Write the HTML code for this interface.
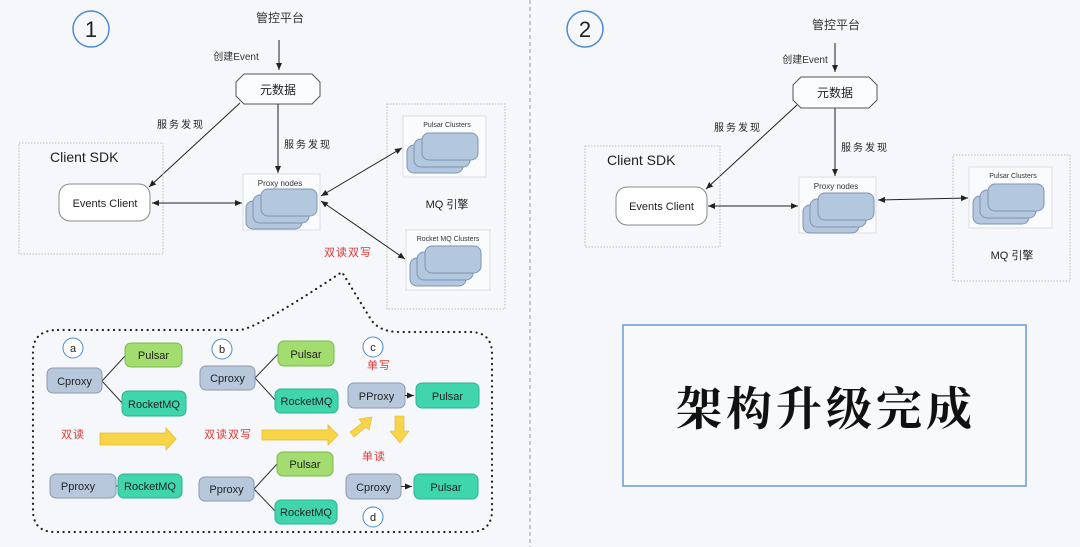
<!DOCTYPE html>
<html><head><meta charset="utf-8"><style>
html,body{margin:0;padding:0;background:#f5f7fa;}
svg{display:block;}
text{font-family:"Liberation Sans","Noto Sans CJK SC",sans-serif;}
.cn{font-family:"Liberation Sans","Noto Sans CJK SC",sans-serif;}
.hw{font-family:"Noto Serif CJK SC","WenQuanYi Zen Hei",serif;}
</style></head><body>
<svg width="1080" height="547" viewBox="0 0 1080 547" xmlns="http://www.w3.org/2000/svg">
<defs>
<marker id="ah" markerWidth="8" markerHeight="8" refX="7" refY="4" orient="auto-start-reverse" markerUnits="userSpaceOnUse"><path d="M0,1 L7,4 L0,7 z" fill="#222"/></marker>
<g id="stack">
<rect x="0" y="12" width="56" height="28" rx="7" fill="#b3c8de" stroke="#7e95b0" stroke-width="1"/>
<rect x="7" y="6" width="56" height="28" rx="7" fill="#b3c8de" stroke="#7e95b0" stroke-width="1"/>
<rect x="15" y="0" width="56" height="27" rx="7" fill="#b3c8de" stroke="#7e95b0" stroke-width="1"/>
</g>
</defs>
<rect width="1080" height="547" fill="#f5f7fa"/>
<line x1="530" y1="0" x2="530" y2="547" stroke="#999" stroke-dasharray="4 3" stroke-width="1"/>

<!-- ============ PANEL 1 ============ -->
<circle cx="91" cy="29" r="18" fill="none" stroke="#4a8ad8" stroke-width="1.5"/>
<text x="91" y="37" font-size="22" text-anchor="middle" fill="#222">1</text>
<text x="280" y="22" font-size="12" text-anchor="middle" fill="#333">管控平台</text>
<line x1="279" y1="40" x2="279" y2="70" stroke="#222" marker-end="url(#ah)"/>
<text x="236" y="60" font-size="10" text-anchor="middle" fill="#333">创建Event</text>
<polygon points="244,74 312,74 320,82 320,96 312,104 244,104 236,96 236,82" fill="#fbfcfd" stroke="#555"/>
<text x="278" y="94" font-size="12" text-anchor="middle" fill="#222">元数据</text>
<line x1="240" y1="103" x2="149" y2="187" stroke="#222" marker-end="url(#ah)"/>
<text x="181" y="128" font-size="10" text-anchor="middle" fill="#222" letter-spacing="2">服务发现</text>
<line x1="278" y1="104" x2="278" y2="173" stroke="#222" marker-end="url(#ah)"/>
<text x="308" y="148" font-size="10" text-anchor="middle" fill="#222" letter-spacing="2">服务发现</text>

<rect x="19" y="143" width="144" height="111" fill="none" stroke="#bbb" stroke-dasharray="1.5 1.5"/>
<text x="50" y="162" font-size="14" fill="#222">Client SDK</text>
<rect x="59" y="184" width="91" height="37" rx="11" fill="#fff" stroke="#888"/>
<text x="105" y="207" font-size="11" text-anchor="middle" fill="#222">Events Client</text>
<line x1="152" y1="203" x2="242" y2="203" stroke="#222" marker-start="url(#ah)" marker-end="url(#ah)"/>

<rect x="243" y="174" width="77" height="56" fill="#fafbfc" stroke="#ddd"/>
<text x="280" y="186" font-size="8" text-anchor="middle" fill="#333">Proxy nodes</text>
<use href="#stack" transform="translate(246,189)"/>

<rect x="387" y="104" width="118" height="205" fill="none" stroke="#bbb" stroke-dasharray="1.5 1.5"/>
<rect x="403" y="116" width="83" height="61" fill="#fafbfc" stroke="#ddd"/>
<text x="447" y="127" font-size="7" text-anchor="middle" fill="#333">Pulsar Clusters</text>
<use href="#stack" transform="translate(407,133)"/>
<text x="447" y="208" font-size="11" text-anchor="middle" fill="#222">MQ 引擎</text>
<rect x="406" y="230" width="84" height="60" fill="#fafbfc" stroke="#ddd"/>
<text x="448" y="241" font-size="7" text-anchor="middle" fill="#333">Rocket MQ Clusters</text>
<use href="#stack" transform="translate(410,246)"/>
<line x1="321" y1="196" x2="402" y2="148" stroke="#222" marker-start="url(#ah)" marker-end="url(#ah)"/>
<line x1="321" y1="201" x2="405" y2="259" stroke="#222" marker-start="url(#ah)" marker-end="url(#ah)"/>
<text x="348" y="256" font-size="11" text-anchor="middle" fill="#e53935" letter-spacing="1">双读双写</text>

<!-- dotted callout -->
<path d="M58,330 L240,330 Q258,328 342,272 L370,318 Q378,332 400,332 L470,332 Q492,332 492,354 L492,510 Q492,532 470,532 L55,532 Q33,532 33,510 L33,352 Q33,330 58,330 Z" fill="none" stroke="#222" stroke-width="2.2" stroke-linecap="round" stroke-dasharray="0.1 5.5"/>

<!-- a -->
<circle cx="73" cy="348" r="10" fill="#fff" stroke="#4a8ad8"/>
<text x="73" y="352" font-size="11" text-anchor="middle" fill="#222">a</text>
<line x1="102" y1="381" x2="125" y2="356" stroke="#333"/>
<line x1="102" y1="381" x2="123" y2="404" stroke="#333"/>
<rect x="47" y="368" width="55" height="25" rx="6" fill="#b8c8dc" stroke="#8a9bb0"/>
<text x="74.5" y="385" font-size="11" text-anchor="middle" fill="#222">Cproxy</text>
<rect x="125" y="343" width="57" height="24" rx="6" fill="#a3dc6f" stroke="#7cb84f"/>
<text x="153.5" y="359" font-size="11" text-anchor="middle" fill="#222">Pulsar</text>
<rect x="122" y="391" width="64" height="25" rx="6" fill="#3fd6ad" stroke="#2bb38e"/>
<text x="154" y="408" font-size="11" text-anchor="middle" fill="#222">RocketMQ</text>
<text x="73" y="438" font-size="11" text-anchor="middle" fill="#e53935" letter-spacing="1">双读</text>
<polygon points="100,433 166,433 166,428 176,439 166,450 166,445 100,445" fill="#f8d449" stroke="#e8b830" stroke-width="0.8"/>
<rect x="50" y="474" width="66" height="24" rx="6" fill="#b8c8dc" stroke="#8a9bb0"/>
<text x="78" y="490" font-size="11" text-anchor="middle" fill="#222">Pproxy</text>
<line x1="116" y1="486" x2="118" y2="486" stroke="#333"/>
<rect x="118" y="474" width="64" height="24" rx="6" fill="#3fd6ad" stroke="#2bb38e"/>
<text x="150" y="490" font-size="11" text-anchor="middle" fill="#222">RocketMQ</text>

<!-- b -->
<circle cx="222" cy="349" r="10" fill="#fff" stroke="#4a8ad8"/>
<text x="222" y="353" font-size="11" text-anchor="middle" fill="#222">b</text>
<line x1="255" y1="378" x2="278" y2="354" stroke="#333"/>
<line x1="255" y1="378" x2="276" y2="401" stroke="#333"/>
<rect x="200" y="366" width="55" height="24" rx="6" fill="#b8c8dc" stroke="#8a9bb0"/>
<text x="227.5" y="382" font-size="11" text-anchor="middle" fill="#222">Cproxy</text>
<rect x="278" y="341" width="56" height="25" rx="6" fill="#a3dc6f" stroke="#7cb84f"/>
<text x="306" y="358" font-size="11" text-anchor="middle" fill="#222">Pulsar</text>
<rect x="275" y="389" width="63" height="24" rx="6" fill="#3fd6ad" stroke="#2bb38e"/>
<text x="306.5" y="405" font-size="11" text-anchor="middle" fill="#222">RocketMQ</text>
<text x="228" y="438" font-size="11" text-anchor="middle" fill="#e53935" letter-spacing="1">双读双写</text>
<polygon points="262,430 328,430 328,425 338,435 328,445 328,440 262,440" fill="#f8d449" stroke="#e8b830" stroke-width="0.8"/>
<line x1="254" y1="489" x2="277" y2="464" stroke="#333"/>
<line x1="254" y1="489" x2="276" y2="512" stroke="#333"/>
<rect x="199" y="477" width="55" height="24" rx="6" fill="#b8c8dc" stroke="#8a9bb0"/>
<text x="226.5" y="493" font-size="11" text-anchor="middle" fill="#222">Pproxy</text>
<rect x="277" y="452" width="56" height="24" rx="6" fill="#a3dc6f" stroke="#7cb84f"/>
<text x="305" y="468" font-size="11" text-anchor="middle" fill="#222">Pulsar</text>
<rect x="275" y="500" width="62" height="24" rx="6" fill="#3fd6ad" stroke="#2bb38e"/>
<text x="306" y="516" font-size="11" text-anchor="middle" fill="#222">RocketMQ</text>

<!-- c / d -->
<circle cx="373" cy="347" r="10" fill="#fff" stroke="#4a8ad8"/>
<text x="373" y="351" font-size="11" text-anchor="middle" fill="#222">c</text>
<text x="379" y="369" font-size="11" text-anchor="middle" fill="#e53935" letter-spacing="1">单写</text>
<rect x="348" y="383" width="57" height="25" rx="6" fill="#b8c8dc" stroke="#8a9bb0"/>
<text x="376.5" y="400" font-size="11" text-anchor="middle" fill="#222">PProxy</text>
<line x1="405" y1="395.5" x2="414" y2="395.5" stroke="#333" marker-end="url(#ah)"/>
<rect x="416" y="383" width="63" height="25" rx="6" fill="#3fd6ad" stroke="#2bb38e"/>
<text x="447.5" y="400" font-size="11" text-anchor="middle" fill="#222">Pulsar</text>
<polygon points="350,432 362,423 359,419 372,417 369,430 366,427 354,437" fill="#f8d449" stroke="#e8b830" stroke-width="0.6"/>
<polygon points="395,416 404,416 404,431 409,431 400,443 390,431 395,431" fill="#f8d449" stroke="#e8b830" stroke-width="0.6"/>
<text x="374" y="460" font-size="11" text-anchor="middle" fill="#e53935" letter-spacing="1">单读</text>
<rect x="346" y="474" width="55" height="25" rx="6" fill="#b8c8dc" stroke="#8a9bb0"/>
<text x="373.5" y="491" font-size="11" text-anchor="middle" fill="#222">Cproxy</text>
<line x1="401" y1="486.5" x2="412" y2="486.5" stroke="#333" marker-end="url(#ah)"/>
<rect x="414" y="474" width="64" height="25" rx="6" fill="#3fd6ad" stroke="#2bb38e"/>
<text x="446" y="491" font-size="11" text-anchor="middle" fill="#222">Pulsar</text>
<circle cx="373" cy="517" r="10" fill="#fff" stroke="#4a8ad8"/>
<text x="373" y="521" font-size="11" text-anchor="middle" fill="#222">d</text>

<!-- ============ PANEL 2 ============ -->
<circle cx="585" cy="29" r="18" fill="none" stroke="#4a8ad8" stroke-width="1.5"/>
<text x="585" y="37" font-size="22" text-anchor="middle" fill="#222">2</text>
<text x="836" y="29" font-size="12" text-anchor="middle" fill="#333">管控平台</text>
<line x1="835" y1="43" x2="835" y2="72" stroke="#222" marker-end="url(#ah)"/>
<text x="805" y="63" font-size="10" text-anchor="middle" fill="#333">创建Event</text>
<polygon points="801,77 869,77 877,85 877,100 869,108 801,108 793,100 793,85" fill="#fbfcfd" stroke="#555"/>
<text x="835" y="97" font-size="12" text-anchor="middle" fill="#222">元数据</text>
<line x1="797" y1="105" x2="706" y2="189" stroke="#222" marker-end="url(#ah)"/>
<text x="738" y="131" font-size="10" text-anchor="middle" fill="#222" letter-spacing="2">服务发现</text>
<line x1="835" y1="108" x2="835" y2="176" stroke="#222" marker-end="url(#ah)"/>
<text x="865" y="151" font-size="10" text-anchor="middle" fill="#222" letter-spacing="2">服务发现</text>

<rect x="585" y="146" width="135" height="101" fill="none" stroke="#bbb" stroke-dasharray="1.5 1.5"/>
<text x="607" y="165" font-size="14" fill="#222">Client SDK</text>
<rect x="616" y="187" width="91" height="38" rx="11" fill="#fff" stroke="#888"/>
<text x="661.5" y="210" font-size="11" text-anchor="middle" fill="#222">Events Client</text>
<line x1="708" y1="206" x2="798" y2="206" stroke="#222" marker-start="url(#ah)" marker-end="url(#ah)"/>

<rect x="799" y="177" width="77" height="56" fill="#fafbfc" stroke="#ddd"/>
<text x="836" y="189" font-size="8" text-anchor="middle" fill="#333">Proxy nodes</text>
<use href="#stack" transform="translate(803,193)"/>
<line x1="878" y1="200" x2="968" y2="198" stroke="#222" marker-start="url(#ah)" marker-end="url(#ah)"/>

<rect x="953" y="155" width="117" height="126" fill="none" stroke="#bbb" stroke-dasharray="1.5 1.5"/>
<rect x="969" y="167" width="83" height="61" fill="#fafbfc" stroke="#ddd"/>
<text x="1013" y="178" font-size="7" text-anchor="middle" fill="#333">Pulsar Clusters</text>
<use href="#stack" transform="translate(973,184)"/>
<text x="1012" y="259" font-size="11" text-anchor="middle" fill="#222">MQ 引擎</text>

<rect x="623" y="325" width="403" height="161" fill="#f7f9fb" stroke="#6b9bd6" stroke-width="1.5"/>
<text x="826" y="425" font-size="46" text-anchor="middle" fill="#111" class="hw" font-weight="bold" letter-spacing="4">架构升级完成</text>
</svg>
</body></html>
